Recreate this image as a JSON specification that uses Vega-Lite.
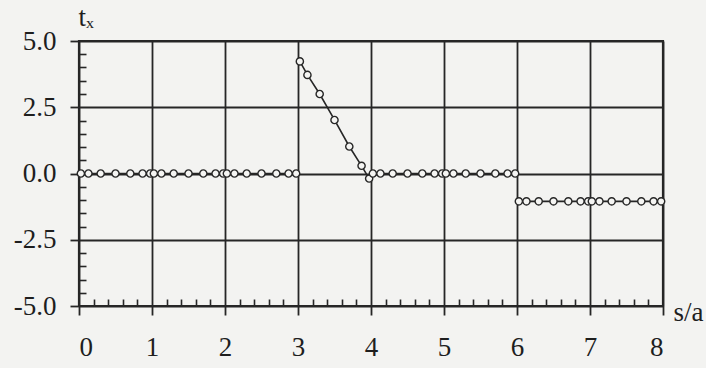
{
  "$schema": "https://vega.github.io/schema/vega-lite/v6.json",
  "width": 584,
  "height": 265,
  "autosize": "none",
  "padding": {"left": 79, "top": 41, "right": 43, "bottom": 62},
  "background": "#f3f3f1",
  "config": {
    "view": {"stroke": "#262626", "strokeWidth": 2.2},
    "font": "Liberation Serif",
    "axis": {"labelFont": "Liberation Serif", "labelFontSize": 27, "titleFont": "Liberation Serif", "titleFontSize": 27, "titleFontWeight": "normal", "labelColor": "#1e1e1e", "titleColor": "#1e1e1e"}
  },
  "data": {
    "values": [
      {"e": 0, "s": 0.0254, "t": 0}, {"e": 0, "s": 0.1292, "t": 0}, {"e": 0, "s": 0.2971, "t": 0}, {"e": 0, "s": 0.5, "t": 0}, {"e": 0, "s": 0.7029, "t": 0}, {"e": 0, "s": 0.8708, "t": 0}, {"e": 0, "s": 0.9746, "t": 0},
      {"e": 1, "s": 1.0254, "t": 0}, {"e": 1, "s": 1.1292, "t": 0}, {"e": 1, "s": 1.2971, "t": 0}, {"e": 1, "s": 1.5, "t": 0}, {"e": 1, "s": 1.7029, "t": 0}, {"e": 1, "s": 1.8708, "t": 0}, {"e": 1, "s": 1.9746, "t": 0},
      {"e": 2, "s": 2.0254, "t": 0}, {"e": 2, "s": 2.1292, "t": 0}, {"e": 2, "s": 2.2971, "t": 0}, {"e": 2, "s": 2.5, "t": 0}, {"e": 2, "s": 2.7029, "t": 0}, {"e": 2, "s": 2.8708, "t": 0}, {"e": 2, "s": 2.9746, "t": 0},
      {"e": 3, "s": 3.0254, "t": 4.23}, {"e": 3, "s": 3.1292, "t": 3.72}, {"e": 3, "s": 3.2971, "t": 3.0}, {"e": 3, "s": 3.5, "t": 2.02}, {"e": 3, "s": 3.7029, "t": 1.02}, {"e": 3, "s": 3.8708, "t": 0.29}, {"e": 3, "s": 3.9746, "t": -0.19},
      {"e": 4, "s": 4.0254, "t": 0}, {"e": 4, "s": 4.1292, "t": 0}, {"e": 4, "s": 4.2971, "t": 0}, {"e": 4, "s": 4.5, "t": 0}, {"e": 4, "s": 4.7029, "t": 0}, {"e": 4, "s": 4.8708, "t": 0}, {"e": 4, "s": 4.9746, "t": 0},
      {"e": 5, "s": 5.0254, "t": 0}, {"e": 5, "s": 5.1292, "t": 0}, {"e": 5, "s": 5.2971, "t": 0}, {"e": 5, "s": 5.5, "t": 0}, {"e": 5, "s": 5.7029, "t": 0}, {"e": 5, "s": 5.8708, "t": 0}, {"e": 5, "s": 5.9746, "t": 0},
      {"e": 6, "s": 6.0254, "t": -1.05}, {"e": 6, "s": 6.1292, "t": -1.05}, {"e": 6, "s": 6.2971, "t": -1.05}, {"e": 6, "s": 6.5, "t": -1.05}, {"e": 6, "s": 6.7029, "t": -1.05}, {"e": 6, "s": 6.8708, "t": -1.05}, {"e": 6, "s": 6.9746, "t": -1.05},
      {"e": 7, "s": 7.0254, "t": -1.05}, {"e": 7, "s": 7.1292, "t": -1.05}, {"e": 7, "s": 7.2971, "t": -1.05}, {"e": 7, "s": 7.5, "t": -1.05}, {"e": 7, "s": 7.7029, "t": -1.05}, {"e": 7, "s": 7.8708, "t": -1.05}, {"e": 7, "s": 7.9746, "t": -1.05}
    ]
  },
  "layer": [
    {
      "mark": {"type": "point", "opacity": 0},
      "encoding": {
        "x": {"field": "s", "type": "quantitative", "scale": {"domain": [0, 8], "nice": false},
          "axis": {"orient": "bottom", "values": [0.2,0.4,0.6,0.8,1.2,1.4,1.6,1.8,2.2,2.4,2.6,2.8,3.2,3.4,3.6,3.8,4.2,4.4,4.6,4.8,5.2,5.4,5.6,5.8,6.2,6.4,6.6,6.8,7.2,7.4,7.6,7.8],
            "labels": false, "domain": false, "grid": false, "ticks": true, "tickSize": -7, "tickColor": "#262626", "tickWidth": 1.6, "title": null}},
        "y": {"field": "t", "type": "quantitative", "scale": {"domain": [-5, 5], "nice": false},
          "axis": {"orient": "left", "values": [-4.5,-4,-3.5,-3,-2,-1.5,-1,-0.5,0.5,1,1.5,2,3,3.5,4,4.5],
            "labels": false, "domain": false, "grid": false, "ticks": true, "tickSize": -7, "tickColor": "#262626", "tickWidth": 1.6, "title": null}}
      }
    },
    {
      "layer": [
        {
          "mark": {"type": "line", "color": "#262626", "strokeWidth": 1.6},
          "encoding": {
            "detail": {"field": "e", "type": "nominal"},
            "x": {"field": "s", "type": "quantitative", "scale": {"domain": [0, 8], "nice": false},
              "axis": {"orient": "bottom", "values": [0,1,2,3,4,5,6,7,8], "format": "d", "domain": false,
                "grid": true, "gridColor": "#262626", "gridWidth": 1.8, "gridOpacity": 1,
                "ticks": true, "tickSize": 9, "tickColor": "#262626", "tickWidth": 1.8,
                "labelFontSize": 27, "labelPadding": 19,
                "title": "s/a", "titleFontSize": 27,
                "titleX": 594, "titleY": 6, "titleAlign": "left", "titleBaseline": "middle", "titleAngle": 0}},
            "y": {"field": "t", "type": "quantitative", "scale": {"domain": [-5, 5], "nice": false},
              "axis": {"orient": "left", "values": [-5, -2.5, 0, 2.5, 5], "domain": false,
                "labelExpr": "datum.value < 0 ? '-' + format(-datum.value, '.1f') : format(datum.value, '.1f')",
                "grid": true, "gridColor": "#262626", "gridWidth": 1.8, "gridOpacity": 1,
                "ticks": true, "tickSize": 9, "tickColor": "#262626", "tickWidth": 1.8,
                "labelFontSize": 27, "labelPadding": 14,
                "title": "tₓ", "titleFontSize": 27,
                "titleX": -1, "titleY": -16, "titleAlign": "left", "titleBaseline": "alphabetic", "titleAngle": 0}}
          }
        },
        {
          "mark": {"type": "point", "shape": "circle", "filled": true, "fill": "#f5f5f3", "stroke": "#262626", "strokeWidth": 1.4, "size": 52, "opacity": 1},
          "encoding": {
            "x": {"field": "s", "type": "quantitative"},
            "y": {"field": "t", "type": "quantitative"}
          }
        }
      ]
    }
  ],
  "resolve": {"axis": {"x": "independent", "y": "independent"}}
}
